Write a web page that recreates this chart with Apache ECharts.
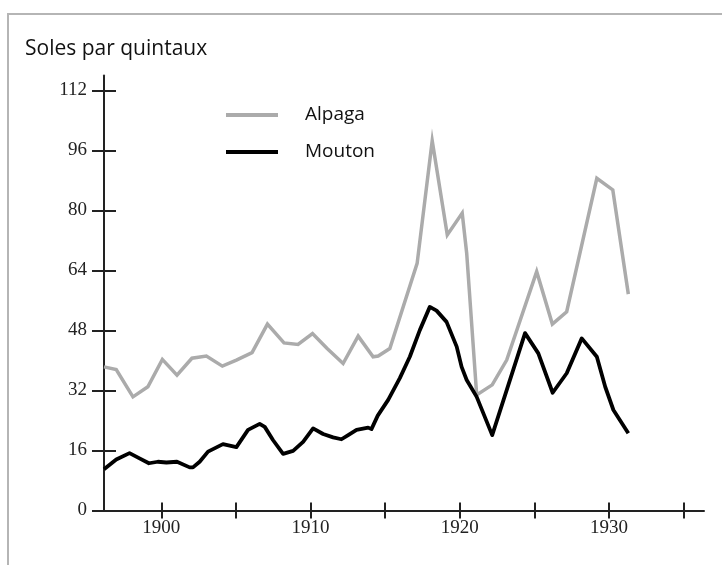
<!DOCTYPE html>
<html><head><meta charset="utf-8">
<script src="https://cdn.jsdelivr.net/npm/echarts@6/dist/echarts.min.js"></script>
<style>
html,body{margin:0;padding:0;background:#fff;}
#wrap{position:relative;width:722px;height:565px;overflow:hidden;}
#frame{position:absolute;left:7px;top:13px;width:740px;height:600px;border-top:2px solid #b5b5b5;border-left:2px solid #b5b5b5;pointer-events:none;}
#chart{position:absolute;left:0;top:0;width:722px;height:565px;}
</style></head>
<body>
<div id="wrap"><div id="chart"></div><div id="frame"></div></div>
<script>
var title = "Soles par quintaux";
var seriesNames = ["Alpaga", "Mouton"];
var yTicks = [0, 16, 32, 48, 64, 80, 96, 112];
var xTicks = [1900, 1905, 1910, 1915, 1920, 1925, 1930, 1935];
var xLabels = [1900, 1910, 1920, 1930];

var alpagaYears = [1896.16, 1896.98, 1898.10, 1899.10, 1900.07, 1901.05, 1902.05, 1903.02, 1904.09, 1905.03, 1906.08, 1907.11, 1908.22, 1909.16, 1910.13, 1911.11, 1912.18, 1913.19, 1914.19, 1914.53, 1915.31, 1917.14, 1918.15, 1919.16, 1920.16, 1920.46, 1921.13, 1922.17, 1923.14, 1925.15, 1926.20, 1927.16, 1929.18, 1930.25, 1931.29];
var alpagaValues = [38.3, 37.6, 30.3, 33.0, 40.3, 36.1, 40.6, 41.2, 38.5, 40.1, 42.1, 49.7, 44.7, 44.3, 47.2, 43.2, 39.2, 46.5, 41.0, 41.2, 43.2, 65.9, 98.6, 73.5, 79.3, 68.6, 30.8, 33.5, 40.1, 63.7, 49.7, 53.0, 88.6, 85.5, 57.7];

var moutonYears = [1896.16, 1896.98, 1897.87, 1898.54, 1899.17, 1899.77, 1900.34, 1901.05, 1901.90, 1902.12, 1902.57, 1903.13, 1904.13, 1905.03, 1905.81, 1906.59, 1906.93, 1907.48, 1908.16, 1908.83, 1909.50, 1910.17, 1910.84, 1911.51, 1912.07, 1912.52, 1913.08, 1913.86, 1914.08, 1914.50, 1915.20, 1915.98, 1916.65, 1917.32, 1917.99, 1918.44, 1919.11, 1919.79, 1920.12, 1920.46, 1921.13, 1922.17, 1924.37, 1925.26, 1926.22, 1927.16, 1928.17, 1929.18, 1929.74, 1930.29, 1931.29];
var moutonValues = [11.0, 13.6, 15.3, 13.9, 12.6, 13.0, 12.8, 13.0, 11.5, 11.5, 13.0, 15.7, 17.7, 16.9, 21.5, 23.1, 22.3, 18.8, 15.1, 15.9, 18.3, 21.9, 20.4, 19.5, 19.0, 20.1, 21.5, 22.1, 21.7, 25.3, 29.5, 35.3, 41.0, 48.1, 54.3, 53.3, 50.3, 43.7, 38.3, 34.8, 30.3, 20.1, 47.3, 41.9, 31.4, 36.6, 45.9, 41.0, 33.0, 26.8, 20.6];

function pairs(xs, ys){ return xs.map(function(x,i){ return [x, ys[i]]; }); }

var serifFont = "'Liberation Serif', 'DejaVu Serif', serif";
var sansFont = "'Open Sans', 'Noto Sans', sans-serif";
var xMin = 1896.16, xMax = 1936.36, yMax = 116;

var chart = echarts.init(document.getElementById('chart'), null, {renderer:'canvas'});
var commonX = {
  type:'value', min:xMin, max:xMax, splitLine:{show:false},
  axisLine:{show:true, lineStyle:{color:'#222', width:2}}
};
var commonY = {
  type:'value', min:0, max:yMax, splitLine:{show:false},
  axisLine:{show:true, onZero:false, lineStyle:{color:'#222', width:2}}
};
chart.setOption({
  animation:false,
  backgroundColor:'#fff',
  title:{text:title, left:25, top:39, padding:0,
    textStyle:{fontFamily:sansFont, fontSize:21, fontWeight:'normal', color:'#111'}},
  legend:{
    orient:'vertical', left:226, top:105, padding:0, itemGap:17,
    itemWidth:52, itemHeight:4, icon:'rect',
    textStyle:{fontFamily:sansFont, fontSize:19, lineHeight:20, color:'#111', padding:[0,0,0,22]},
    data:seriesNames
  },
  grid:{left:104, right:18, top:75.5, bottom:54.5, containLabel:false},
  xAxis:[
    Object.assign({}, commonX, {
      axisTick:{show:true, inside:false, length:8, lineStyle:{color:'#222', width:2}, customValues:xTicks},
      axisLabel:{show:true, margin:8, fontFamily:serifFont, fontSize:19, color:'#222', customValues:xLabels,
        formatter:function(v){return String(v);}}
    }),
    Object.assign({}, commonX, {
      position:'bottom',
      axisLine:{show:false},
      axisTick:{show:true, inside:true, length:8, lineStyle:{color:'#222', width:2}, customValues:xTicks},
      axisLabel:{show:false}
    })
  ],
  yAxis:[
    Object.assign({}, commonY, {
      axisTick:{show:true, inside:false, length:12, lineStyle:{color:'#222', width:2}, customValues:yTicks},
      axisLabel:{show:true, margin:17, fontFamily:serifFont, fontSize:19, color:'#222', customValues:yTicks}
    }),
    Object.assign({}, commonY, {
      position:'left',
      axisLine:{show:false},
      axisTick:{show:true, inside:true, length:12, lineStyle:{color:'#222', width:2}, customValues:yTicks},
      axisLabel:{show:false}
    })
  ],
  series:[
    {name:seriesNames[0], type:'line', data:pairs(alpagaYears, alpagaValues), showSymbol:false, symbol:'none',
      lineStyle:{color:'#ababab', width:3.5, join:'miter'}, itemStyle:{color:'#ababab'}, xAxisIndex:0, yAxisIndex:0},
    {name:seriesNames[1], type:'line', data:pairs(moutonYears, moutonValues), showSymbol:false, symbol:'none',
      lineStyle:{color:'#000', width:3.8, join:'round'}, itemStyle:{color:'#000'}, xAxisIndex:0, yAxisIndex:0}
  ]
});
</script>
</body></html>
